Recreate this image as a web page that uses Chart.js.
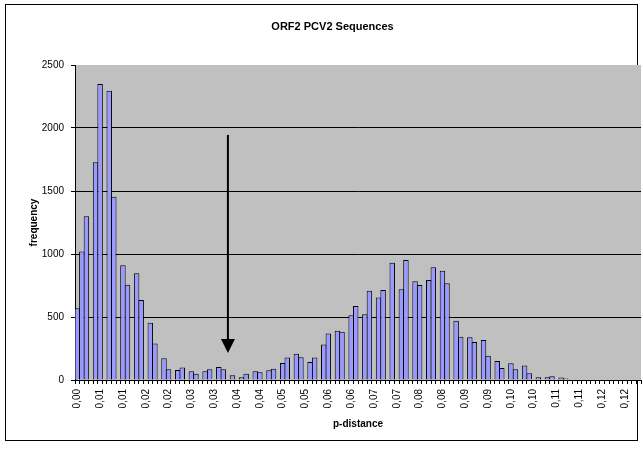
<!DOCTYPE html>
<html>
<head>
<meta charset="utf-8">
<title>ORF2 PCV2 Sequences</title>
<script src="https://cdn.jsdelivr.net/npm/chart.js@4.4.1/dist/chart.umd.min.js"></script>
<style>
  html, body { margin: 0; padding: 0; background: #fff; }
  #wrap { position: relative; width: 643px; height: 450px; }
  #frame { position: absolute; left: 5px; top: 4px; width: 631px; height: 435px; border: 1px solid #000; }
  #chart { position: absolute; left: 0; top: 0; }
</style>
</head>
<body>
<div id="wrap">
  <div id="frame"></div>
  <canvas id="chart" width="643" height="450"></canvas>
</div>
<script>
// Histogram of pairwise p-distances, one bin per column
const chartTitle = "ORF2 PCV2 Sequences";
const xAxisTitle = "p-distance";
const yAxisTitle = "frequency";

// every 5th bin carries a label
const tickEvery = 5;
const xTickLabels = [
  "0,00", "0,01", "0,01", "0,02", "0,02", "0,03", "0,03", "0,04", "0,04", "0,05",
  "0,05", "0,06", "0,06", "0,07", "0,07", "0,08", "0,08", "0,09", "0,09", "0,10",
  "0,10", "0,11", "0,11", "0,12", "0,12"
];

const frequencies = [
  570, 1020, 1300, 0, 1728, 2350, 0, 2295, 1455, 0,
  910, 755, 0, 847, 635, 0, 455, 290, 0, 172,
  85, 0, 79, 100, 0, 69, 50, 0, 69, 85,
  0, 103, 85, 0, 37, 0, 22, 50, 0, 69,
  61, 0, 77, 90, 0, 135, 178, 0, 209, 180,
  0, 143, 178, 0, 282, 370, 0, 390, 383, 0,
  513, 587, 0, 521, 709, 0, 654, 714, 0, 931,
  0, 720, 953, 0, 783, 754, 0, 794, 894, 0,
  868, 767, 0, 471, 344, 0, 339, 302, 0, 318,
  193, 0, 151, 95, 0, 132, 85, 0, 116, 53,
  0, 21, 0, 21, 29, 0, 19, 11, 0, 0,
  0, 0, 0, 0, 0, 0, 0, 0, 0, 0,
  0, 0, 0, 0
];

const yTicks = [0, 500, 1000, 1500, 2000, 2500];

// the arrow drawn over the gap between the two peaks
const arrowBin = 33;
const arrowFrom = 1945;
const arrowTo = 215;

const binLabels = frequencies.map((_, i) => (i % tickEvery === 0 ? xTickLabels[i / tickEvery] : ""));

const FONT = "'Liberation Sans', Arial, sans-serif";
Chart.defaults.font.family = FONT;
Chart.defaults.color = "#000";

const plotBackground = {
  id: "plotBackground",
  beforeDraw(chart) {
    const { ctx, chartArea: a } = chart;
    ctx.save();
    ctx.fillStyle = "#C0C0C0";
    ctx.fillRect(a.left, a.top, a.right - a.left, a.bottom - a.top);
    ctx.restore();
  }
};

const arrowMark = {
  id: "arrowMark",
  afterDatasetsDraw(chart) {
    const { ctx, scales: { x, y } } = chart;
    const px = x.getPixelForValue(arrowBin);
    const top = y.getPixelForValue(arrowFrom);
    const tip = y.getPixelForValue(arrowTo);
    ctx.save();
    ctx.strokeStyle = "#000";
    ctx.fillStyle = "#000";
    ctx.lineWidth = 2;
    ctx.beginPath();
    ctx.moveTo(px, top);
    ctx.lineTo(px, tip - 10);
    ctx.stroke();
    ctx.beginPath();
    ctx.moveTo(px - 7, tip - 14);
    ctx.lineTo(px + 7, tip - 14);
    ctx.lineTo(px, tip);
    ctx.closePath();
    ctx.fill();
    ctx.restore();
  }
};

new Chart(document.getElementById("chart").getContext("2d"), {
  type: "bar",
  data: {
    labels: binLabels,
    datasets: [{
      label: yAxisTitle,
      data: frequencies,
      backgroundColor: "#9999FF",
      borderColor: "#000",
      borderWidth: 1,
      barPercentage: 1.2,
      categoryPercentage: 1
    }]
  },
  options: {
    responsive: false,
    devicePixelRatio: 1,
    animation: false,
    layout: { padding: { left: 24, right: 2, top: 0, bottom: 16 } },
    plugins: {
      legend: { display: false },
      tooltip: { enabled: false },
      title: {
        display: true,
        text: chartTitle,
        color: "#000",
        font: { size: 11, weight: "bold", family: FONT },
        padding: { top: 20, bottom: 31.8 }
      }
    },
    scales: {
      x: {
        grid: { display: true, drawOnChartArea: false, offset: true, color: "#000", tickLength: 4 },
        border: { display: true, color: "#000" },
        ticks: { autoSkip: false, minRotation: 90, maxRotation: 90, padding: 5, color: "#000", font: { size: 10 } },
        title: { display: true, text: xAxisTitle, color: "#000", font: { size: 10, weight: "bold" } },
        afterFit(scale) {
          scale.height = 54;
          scale.paddingLeft = 0;
          scale.paddingRight = 0;
        }
      },
      y: {
        min: 0,
        max: 2500,
        afterBuildTicks(scale) { scale.ticks = yTicks.map((v) => ({ value: v })); },
        grid: {
          color: (c) => (c.tick && c.tick.value === 2500 ? "rgba(0,0,0,0)" : "#000"),
          tickColor: "#000",
          tickLength: 4
        },
        border: { display: true, color: "#000" },
        ticks: { padding: 7, color: "#000", font: { size: 10 }, callback: (value) => String(value) },
        title: { display: true, text: yAxisTitle, color: "#000", font: { size: 10, weight: "bold" } },
        afterFit(scale) {
          scale.width = 51;
          scale.paddingTop = 0;
          scale.paddingBottom = 0;
        }
      }
    }
  },
  plugins: [plotBackground, arrowMark]
});
</script>
</body>
</html>
